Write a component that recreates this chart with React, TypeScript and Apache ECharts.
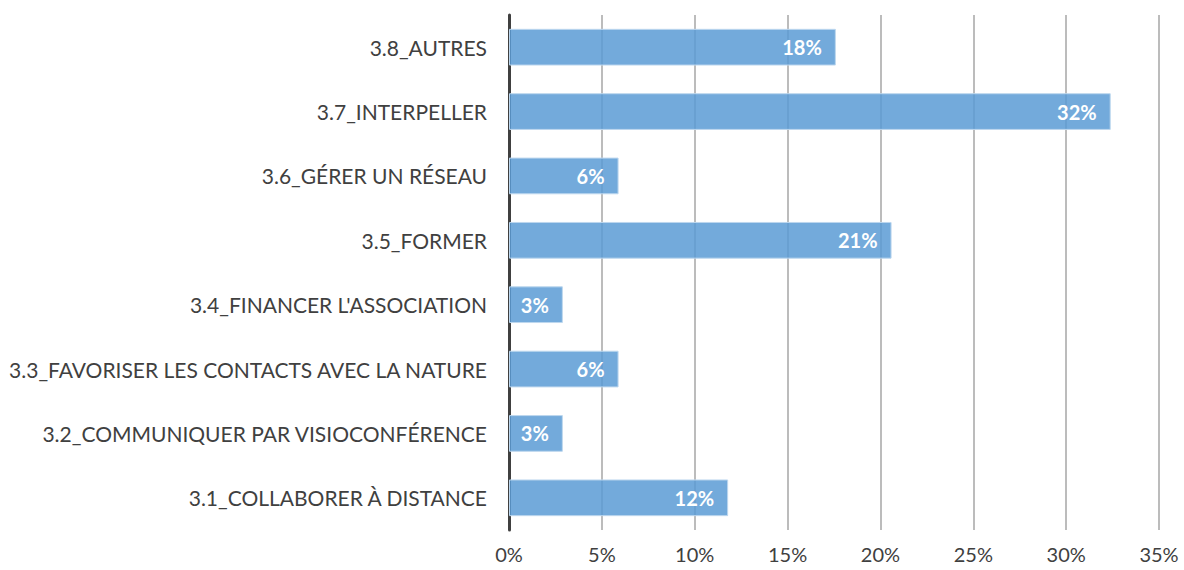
import React, { useEffect, useRef } from "react";
import * as echarts from "echarts";

const categories = [
  "3.1_COLLABORER À DISTANCE",
  "3.2_COMMUNIQUER PAR VISIOCONFÉRENCE",
  "3.3_FAVORISER LES CONTACTS AVEC LA NATURE",
  "3.4_FINANCER L'ASSOCIATION",
  "3.5_FORMER",
  "3.6_GÉRER UN RÉSEAU",
  "3.7_INTERPELLER",
  "3.8_AUTRES",
];
const values = [11.8, 2.9, 5.9, 2.9, 20.6, 5.9, 32.4, 17.6];

const FONT = "Lato, Liberation Sans, sans-serif";

export default function App() {
  const ref = useRef<HTMLDivElement>(null);
  useEffect(() => {
    document.body.style.margin = "0";
    const chart = echarts.init(ref.current!, null, { renderer: "svg" });
    chart.setOption({
      animation: false,
      grid: { left: 509, right: 25, top: 15, height: 515 },
      xAxis: {
        type: "value",
        min: 0,
        max: 35,
        interval: 5,
        axisLine: { show: false },
        axisTick: { show: false },
        axisLabel: {
          formatter: "{value}%",
          color: "#404040",
          fontSize: 20,
          fontFamily: FONT,
          margin: 14,
        },
        splitLine: { lineStyle: { color: "#a6a6a6", width: 1.5 } },
      },
      yAxis: {
        type: "category",
        data: categories,
        axisLine: { lineStyle: { color: "#404040", width: 3 } },
        axisTick: { show: false },
        axisLabel: {
          color: "#404040",
          fontSize: 21,
          fontFamily: FONT,
          margin: 22,
        },
      },
      series: [
        {
          type: "bar",
          data: values,
          barCategoryGap: "43%",
          itemStyle: {
            color: "rgba(91,155,213,0.85)",
            borderColor: "#bdd7ee",
            borderWidth: 1,
          },
          label: {
            show: true,
            position: "insideRight",
            distance: 14,
            color: "#ffffff",
            fontWeight: "bold",
            fontSize: 20,
            fontFamily: FONT,
            formatter: (p: any) => Math.round(p.value) + "%",
          },
        },
      ],
    });
    return () => chart.dispose();
  }, []);
  return <div ref={ref} style={{ width: 1184, height: 570 }} />;
}
